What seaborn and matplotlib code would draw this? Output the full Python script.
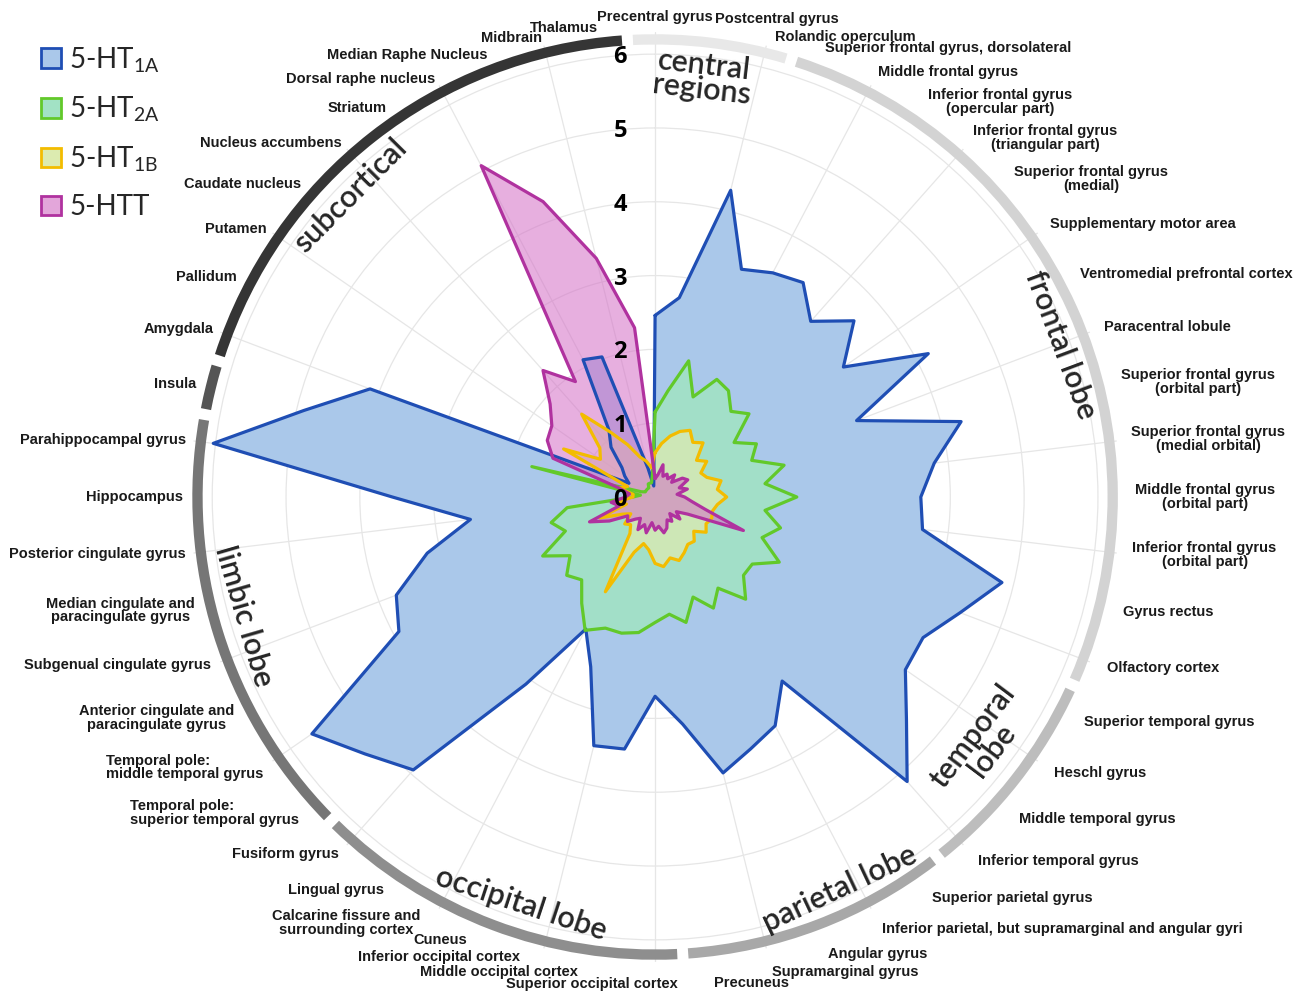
import numpy as np
import matplotlib
matplotlib.use("Agg")
import matplotlib.pyplot as plt
from matplotlib.patches import Patch
from matplotlib.transforms import offset_copy
import seaborn as sns

# brain regions, clockwise from the top
regions = [
    "Precentral gyrus", "Postcentral gyrus", "Rolandic operculum",
    "Superior frontal gyrus, dorsolateral", "Middle frontal gyrus",
    "Inferior frontal gyrus\n(opercular part)", "Inferior frontal gyrus\n(triangular part)",
    "Superior frontal gyrus\n(medial)", "Supplementary motor area",
    "Ventromedial prefrontal cortex", "Paracentral lobule",
    "Superior frontal gyrus\n(orbital part)", "Superior frontal gyrus\n(medial orbital)",
    "Middle frontal gyrus\n(orbital part)", "Inferior frontal gyrus\n(orbital part)",
    "Gyrus rectus", "Olfactory cortex", "Superior temporal gyrus", "Heschl gyrus",
    "Middle temporal gyrus", "Inferior temporal gyrus", "Superior parietal gyrus",
    "Inferior parietal, but supramarginal and angular gyri", "Angular gyrus",
    "Supramarginal gyrus", "Precuneus", "Superior occipital cortex",
    "Middle occipital cortex", "Inferior occipital cortex", "Cuneus",
    "Calcarine fissure and\nsurrounding cortex", "Lingual gyrus", "Fusiform gyrus",
    "Temporal pole:\nsuperior temporal gyrus", "Temporal pole:\nmiddle temporal gyrus",
    "Anterior cingulate and\nparacingulate gyrus", "Subgenual cingulate gyrus",
    "Median cingulate and\nparacingulate gyrus", "Posterior cingulate gyrus",
    "Hippocampus", "Parahippocampal gyrus", "Insula", "Amygdala", "Pallidum",
    "Putamen", "Caudate nucleus", "Nucleus accumbens", "Striatum",
    "Dorsal raphe nucleus", "Median Raphe Nucleus", "Midbrain", "Thalamus",
]

ht1a = [2.46, 2.72, 4.28, 3.30, 3.43, 3.53, 3.18, 3.60, 3.10, 4.18, 2.92, 4.27, 3.81,
        3.60, 3.65, 4.84, 4.42, 4.10, 4.12, 4.55, 5.15, 3.03, 3.50, 3.65, 3.85, 3.10,
        2.70, 3.44, 3.47, 2.46, 2.02, 3.08, 4.94, 5.25, 5.65, 3.92, 3.75, 3.18, 2.52,
        3.56, 6.03, 4.90, 4.13, 0.40, 0.50, 0.60, 0.90, 1.10, 2.10, 2.03, 0.40, 0.15]
ht2a = [1.15, 1.45, 1.90, 1.45, 1.80, 1.75, 1.55, 1.70, 1.30, 1.55, 1.40, 1.80, 1.50,
        1.92, 1.50, 1.75, 1.55, 1.90, 1.60, 1.60, 1.85, 1.50, 1.70, 1.45, 1.75, 1.60,
        1.70, 1.85, 1.90, 1.90, 2.04, 1.75, 1.50, 1.60, 1.40, 1.72, 1.30, 1.45, 1.20,
        0.30, 0.20, 1.72, 0.20, 0.15, 0.15, 0.15, 0.15, 0.15, 0.20, 0.20, 0.20, 0.30]
ht1b = [0.60, 0.73, 0.85, 0.95, 1.02, 0.90, 0.98, 0.75, 0.85, 0.70, 0.75, 0.92, 0.85,
        0.97, 0.85, 0.80, 0.82, 0.78, 0.84, 0.70, 0.80, 0.78, 0.85, 0.92, 0.85, 0.95,
        0.90, 0.72, 0.65, 0.80, 1.45, 0.60, 0.50, 0.55, 0.40, 0.50, 0.80, 0.40, 0.50,
        0.30, 0.30, 0.50, 0.40, 1.40, 0.90, 1.00, 1.50, 1.07, 0.80, 0.58, 0.50, 0.40]
htt = [0.25, 0.30, 0.45, 0.30, 0.35, 0.30, 0.40, 0.30, 0.45, 0.50, 0.35, 0.45, 0.30,
       0.40, 0.50, 0.70, 1.28, 0.50, 0.35, 0.45, 0.30, 0.40, 0.35, 0.45, 0.50, 0.40,
       0.45, 0.35, 0.50, 0.40, 0.50, 0.35, 0.40, 0.50, 0.45, 0.70, 0.95, 0.50, 0.60,
       0.40, 0.35, 0.50, 1.48, 1.65, 1.70, 1.90, 2.29, 1.90, 5.07, 4.28, 3.33, 2.31]

series = ["5-HT$_{\\mathregular{1A}}$", "5-HT$_{\\mathregular{2A}}$",
          "5-HT$_{\\mathregular{1B}}$", "5-HTT"]
edge_colors = ["#1f4eb4", "#62c92a", "#f3bc00", "#b0329f"]
fill_colors = ["#aac8ea", "#a2e2c5", "#dcebb0", "#d46ec6"]
fill_alpha = [1.0, 0.9, 0.75, 0.55]

# lobe groups: (label, first index, last index, ring colour)
groups = [("central\nregions", 0, 2, "#e8e8e8"), ("frontal lobe", 3, 16, "#d3d3d3"),
          ("temporal\nlobe", 17, 20, "#bdbdbd"), ("parietal lobe", 21, 25, "#a8a8a8"),
          ("occipital lobe", 26, 32, "#8e8e8e"), ("limbic lobe", 33, 40, "#767676"),
          ("", 41, 41, "#555555"), ("subcortical", 42, 51, "#353535")]
group_pos = [(6.5, 5.72), (69.5, 5.87), (127, 5.55), (154.8, 5.87),
             (198.3, 5.8), (253.8, 5.8), (0, 0), (314.7, 5.8)]

# hand placement for crowded labels: index -> (angle deg, radius)
label_nudge = {1: (7.2, 6.53), 2: (14.6, 6.44), 26: (177.3, 6.6), 27: (189.2, 6.52),
               28: (196.4, 6.49), 29: (203.0, 6.52), 30: (208.9, 6.59)}
left_aligned_multi = {33, 34}

n = len(regions)
step = 2 * np.pi / n
theta = np.arange(n) * step
theta_c = np.append(theta, theta[0])

sns.set_theme(style="white")
plt.rcParams['font.family'] = ['Liberation Sans', 'DejaVu Sans']

fig = plt.figure(figsize=(13.09, 9.94), dpi=100)
ax = fig.add_axes([0.1452, 0.0322, 0.7105, 0.9356], projection='polar')
ax.set_theta_zero_location('N')
ax.set_theta_direction(-1)

# grid
ax.set_xticks(theta[::2])
ax.set_xticklabels([])
ax.set_yticks(range(1, 7))
ax.set_yticklabels([])
ax.grid(True, color="#e6e6e6", lw=0.9)
ax.spines['polar'].set_visible(False)

# data polygons
for vals, ec, fc, fa in zip([ht1a, ht2a, ht1b, htt], edge_colors, fill_colors, fill_alpha):
    v = np.append(vals, vals[0])
    ax.fill(theta_c, v, color=fc, alpha=fa, zorder=2)
    sns.lineplot(x=theta_c, y=v, sort=False, estimator=None, ax=ax,
                 color=ec, lw=2.3, zorder=3)

# outer ring per lobe
for (name, a, b, col), (gdeg, gr) in zip(groups, group_pos):
    start = (a - 0.5) * step + 0.012
    end = (b + 0.5) * step - 0.012
    ax.bar((start + end) / 2, 0.14, width=end - start, bottom=6.13,
           color=col, edgecolor='none', zorder=4)
    if name:
        rot = -gdeg if (gdeg < 100 or gdeg > 280) else 180 - gdeg
        ax.text(np.deg2rad(gdeg), gr, name, rotation=rot, rotation_mode='anchor',
                ha='center', va='center', fontsize=22, fontweight='semibold',
                color="#262626", family=['Lato', 'DejaVu Sans'], linespacing=0.82,
                zorder=6)

# region labels
for i, lab in enumerate(regions):
    deg = np.rad2deg(theta[i])
    low = max(0.0, -np.cos(theta[i]))
    if deg < 1:
        ha, r = 'center', 6.5
    elif deg < 179:
        ha, r = 'left', 6.5 + 0.13 * low
    else:
        ha, r = 'right', 6.4 + 0.08 * low
    if i in label_nudge:
        deg, r = label_nudge[i]
    ax.text(np.deg2rad(deg), r, lab, ha=ha, va='center',
            multialignment='left' if i in left_aligned_multi else 'center',
            fontsize=10.5, fontweight='bold', color="#1a1a1a",
            family=['Liberation Sans Narrow', 'Liberation Sans'], linespacing=0.95)

# radial tick numbers
tr = offset_copy(ax.transData, fig=fig, x=-35, y=-3, units='dots')
for k in range(7):
    ax.text(0, k, str(k), transform=tr, ha='center', va='center', fontsize=17,
            fontweight='bold', color="black", family=['Open Sans', 'DejaVu Sans'], zorder=7)

ax.set_ylim(0, 6.3)
ax.set_xlabel('')
ax.set_ylabel('')

handles = [Patch(facecolor=fc if i != 3 else "#e3a6da", edgecolor=ec, lw=2)
           for i, (fc, ec) in enumerate(zip(fill_colors, edge_colors))]
fig.legend(handles, series, loc='upper left', bbox_to_anchor=(0.021, 0.969),
           frameon=False, prop={'family': ['Lato', 'DejaVu Sans'], 'size': 20},
           borderpad=0, handlelength=0.7, handleheight=0.7, handletextpad=0.3,
           labelspacing=0.72)

fig.savefig("out.png", dpi=100)
